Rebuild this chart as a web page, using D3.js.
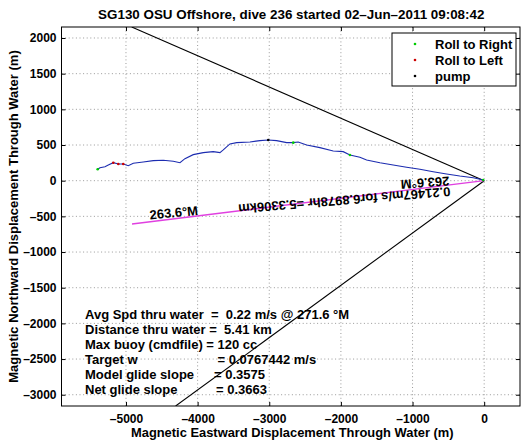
<!DOCTYPE html>
<html><head><meta charset="utf-8">
<script src="https://cdn.jsdelivr.net/npm/d3@7"></script>
<style>
body{margin:0;background:#fff;}
text{font-family:"Liberation Sans",Arial,Helvetica,sans-serif;font-weight:bold;white-space:pre;}
</style></head>
<body><svg id="c" width="528" height="442"></svg>
<script>
// ---- data ----
const xTicks = [-5000,-4000,-3000,-2000,-1000,0];
const yTicks = [2000,1500,1000,500,0,-500,-1000,-1500,-2000,-2500,-3000];
const xDomain = [-5900, 500];
const yDomain = [-3158, 2154];
// glider track through water (east m, north m)
const trackE = [-5395,-5363,-5293,-5247,-5177,-5107,-5038,-4968,-4898,-4759,-4619,-4479,-4340,-4246,-4177,-4061,-3921,-3782,-3688,-3642,-3549,-3455,-3269,-3130,-3014,-2897,-2757,-2665,-2596,-2478,-2293,-2107,-1968,-1874,-1735,-1641,-1455,-1270,-1083,-897,-712,-525,-340,-153,-14,0];
const trackN = [160,182,196,220,252,234,234,210,244,262,281,286,272,252,309,365,393,407,393,431,515,533,543,561,571,561,533,533,543,501,463,417,407,360,328,290,252,220,188,160,126,94,66,42,10,0];
// glide envelope lines (east, north end points from origin)
const envelopeE = [-4920, -4307];
const envelopeN = [2154, -3158];
// net displacement line end (east, north)
const netEnd = [-4916, -607];
const netHeading = 263.6;   // deg magnetic
const netSpeed = 0.21467;   // m/s
const netHours = 6.8978;    // hr
const netKm = 5.3306;
// markers
const rollRightIdx = [0, 27, 33, 44];
const rollLeftIdx = [4, 5, 6];
const pumpIdx = [24];
const legendLabels = ["Roll to Right","Roll to Left","pump"];
const legendColors = ["#00cc00","#cc0000","#000000"];
const infoLines = ["Avg Spd thru water  =  0.22 m/s @ 271.6 °M","Distance thru water =  5.41 km","Max buoy (cmdfile) = 120 cc","Target w","Model glide slope","Net glide slope"];
const infoTails = [null,null,null,"= 0.0767442 m/s","= 0.3575","= 0.3663"];
const title = "SG130 OSU Offshore, dive 236 started 02–Jun–2011 09:08:42";

// ---- layout ----
const svg = d3.select("#c");
const L=61.5, R=520, T=27, B=406;
const x = d3.scaleLinear().domain(xDomain).range([L,R]);
const y = d3.scaleLinear().domain(yDomain).range([B,T]);
const fmt = d => (d<0?"–":"")+Math.abs(d);

svg.append("defs").append("clipPath").attr("id","clip")
  .append("rect").attr("x",L).attr("y",T).attr("width",R-L).attr("height",B-T);

svg.append("rect").attr("x",L).attr("y",T).attr("width",R-L).attr("height",B-T).attr("fill","#fff");

// grid
const grid = svg.append("g").attr("stroke","#555").attr("stroke-width",0.6).attr("stroke-dasharray","1 2.6");
grid.selectAll(".gx").data(xTicks).join("line").attr("x1",d=>x(d)).attr("x2",d=>x(d)).attr("y1",T).attr("y2",B);
grid.selectAll(".gy").data(yTicks).join("line").attr("y1",d=>y(d)).attr("y2",d=>y(d)).attr("x1",L).attr("x2",R);

const plot = svg.append("g").attr("clip-path","url(#clip)");

// envelope lines
plot.selectAll(".env").data(envelopeE).join("line")
  .attr("x1",x(0)).attr("y1",y(0))
  .attr("x2",(d,i)=>x(d)).attr("y2",(d,i)=>y(envelopeN[i]))
  .attr("stroke","#000").attr("stroke-width",1.1);

// net displacement line
plot.append("line").attr("x1",x(0)).attr("y1",y(0)).attr("x2",x(netEnd[0])).attr("y2",y(netEnd[1]))
  .attr("stroke","#e040e0").attr("stroke-width",1.3);

// track
const pts = trackE.map((e,i)=>[e,trackN[i]]);
plot.append("path").attr("d",d3.line().x(d=>x(d[0])).y(d=>y(d[1]))(pts))
  .attr("fill","none").attr("stroke","#1c2cb0").attr("stroke-width",1.1);

function dots(idx,color){
  plot.selectAll(null).data(idx).join("circle")
    .attr("cx",i=>x(pts[i][0])).attr("cy",i=>y(pts[i][1])).attr("r",1.3).attr("fill",color);
}
dots(rollRightIdx,legendColors[0]);
dots(rollLeftIdx,legendColors[1]);
dots(pumpIdx,legendColors[2]);

// rotated labels along the net line
const lab = svg.append("g").attr("font-size",13).attr("fill","#000");
lab.append("text").attr("transform",`translate(449,176.5) rotate(176)`)
  .text(netHeading.toFixed(1)+"°M");
lab.append("text").attr("transform",`translate(450,187) rotate(175.3)`)
  .text(netSpeed+"m/s for"+netHours+"hr ="+netKm+"km");
lab.append("text").attr("transform",`translate(150,219.5) rotate(-5.5)`)
  .text(netHeading.toFixed(1)+"°M");

// info text
const info = svg.append("g").attr("font-size",13).attr("fill","#000");
const tailX = [0,0,0,217.5,214,216];
infoLines.forEach((s,i)=>{
  const yy = 318.5 + i*15.1;
  info.append("text").attr("x",85).attr("y",yy).text(s);
  if (infoTails[i]) info.append("text").attr("x",tailX[i]).attr("y",yy).text(infoTails[i]);
});

// axes
const ax = svg.append("g");
ax.append("g").attr("transform",`translate(0,${B})`).call(d3.axisBottom(x).tickValues(xTicks).tickFormat(fmt).tickSizeInner(-4).tickSizeOuter(0).tickPadding(8.5));
ax.append("g").attr("transform",`translate(0,${T})`).call(d3.axisTop(x).tickValues(xTicks).tickFormat("").tickSizeInner(-4).tickSizeOuter(0));
ax.append("g").attr("transform",`translate(${L},0)`).call(d3.axisLeft(y).tickValues(yTicks).tickFormat(fmt).tickSizeInner(-4).tickSizeOuter(0).tickPadding(5));
ax.append("g").attr("transform",`translate(${R},0)`).call(d3.axisRight(y).tickValues(yTicks).tickFormat("").tickSizeInner(-4).tickSizeOuter(0));
ax.selectAll(".domain").remove();
ax.selectAll("text").attr("font-size",12).attr("font-family",'"Liberation Sans",Arial,sans-serif').attr("font-weight","bold").attr("fill","#000");
ax.selectAll("line").attr("stroke","#000");
svg.append("rect").attr("x",L).attr("y",T).attr("width",R-L).attr("height",B-T).attr("fill","none").attr("stroke","#000").attr("stroke-width",1);

// legend
const lg = svg.append("g");
lg.append("rect").attr("x",392).attr("y",33).attr("width",124).attr("height",53).attr("fill","#fff").attr("stroke","#000").attr("stroke-width",1);
legendLabels.forEach((s,i)=>{
  const yy = 44 + i*16;
  lg.append("circle").attr("cx",415).attr("cy",yy).attr("r",1.3).attr("fill",legendColors[i]);
  lg.append("text").attr("x",435).attr("y",yy).attr("dy","0.36em").attr("font-size",13).text(s);
});

// titles
svg.append("text").attr("x",(L+R)/2+0.5).attr("y",18.5).attr("text-anchor","middle").attr("font-size",13.4).text(title);
svg.append("text").attr("x",(L+R)/2+1.5).attr("y",437).attr("text-anchor","middle").attr("font-size",12.9).text("Magnetic Eastward Displacement Through Water (m)");
svg.append("text").attr("transform",`translate(18,${(T+B)/2}) rotate(-90)`).attr("text-anchor","middle").attr("font-size",13).text("Magnetic Northward Displacement Through Water (m)");
</script></body></html>
